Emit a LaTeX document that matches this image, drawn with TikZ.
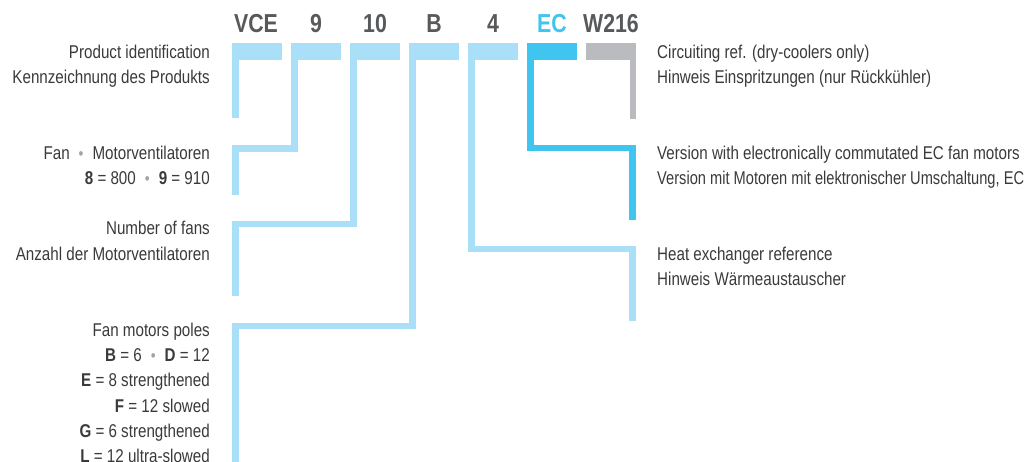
\documentclass[tikz,border=0pt]{standalone}
\usepackage{fontspec}
\setmainfont{Liberation Sans}[FakeStretch=0.82]
\definecolor{lblue}{HTML}{AADFF8}
\definecolor{ecblue}{HTML}{40C4F0}
\definecolor{bgray}{HTML}{BABBBE}
\definecolor{tgray}{HTML}{58595B}
\definecolor{txt}{HTML}{3A3A3A}
\definecolor{dotgray}{HTML}{A3A3A3}
\newcommand\sepdot{\hspace{9pt}{\fontsize{17}{17}\selectfont\color{dotgray}•}\hspace{9pt}}
\begin{document}
\begin{tikzpicture}[x=1pt,y=-1pt,
  bar/.style={minimum width=50pt,minimum height=17pt,inner sep=0pt,outer sep=0pt,draw=none,fill=#1},
  ttl/.style={anchor=base,inner sep=0pt,font=\fontsize{26}{26}\selectfont\bfseries,text=tgray},
  conn/.style={line width=6.5pt,line cap=butt,line join=miter,draw=#1},
  lt/.style={anchor=base east,inner sep=0pt,font=\fontsize{18.5}{25}\selectfont,text=txt},
  rt/.style={anchor=base west,inner sep=0pt,font=\fontsize{18.5}{25}\selectfont,text=txt}]
\useasboundingbox (0,0) rectangle (1035,462);

% code bars
\node[bar=lblue] (b1) at (257,51.5) {};
\node[bar=lblue] (b2) at (316,51.5) {};
\node[bar=lblue] (b3) at (375,51.5) {};
\node[bar=lblue] (b4) at (434,51.5) {};
\node[bar=lblue] (b5) at (493,51.5) {};
\node[bar=ecblue] (b6) at (552,51.5) {};
\node[bar=bgray] (b7) at (611,51.5) {};

% code letters
\node[ttl] (t1) at (256,33) {VCE};
\node[ttl] (t2) at (316,33) {9};
\node[ttl] (t3) at (375,33) {10};
\node[ttl] (t4) at (434,33) {B};
\node[ttl] (t5) at (493,33) {4};
\node[ttl,text=ecblue] (t6) at (552,33) {EC};
\node[ttl] (t7) at (611,33) {W216};

% connector corners and ends
\coordinate (e1) at (235.25,118);
\coordinate (k2) at (235.25,148.5);
\coordinate (e2) at (235.25,195);
\coordinate (k3) at (235.25,224);
\coordinate (e3) at (235.25,296);
\coordinate (k4) at (235.25,326);
\coordinate (e4) at (235.25,462);
\coordinate (k5) at (632.25,249);
\coordinate (e5) at (632.25,321);
\coordinate (k6) at (632.25,148);
\coordinate (e6) at (632.25,220);
\coordinate (e7) at (632.75,119);

\draw[conn=lblue] ([xshift=3.25pt]b1.south west) -- (e1);
\draw[conn=lblue] ([xshift=3.25pt]b2.south west) |- (k2) -- (e2);
\draw[conn=lblue] ([xshift=3.25pt]b3.south west) |- (k3) -- (e3);
\draw[conn=lblue] ([xshift=3.25pt]b4.south west) |- (k4) -- (e4);
\draw[conn=lblue] ([xshift=3.25pt]b5.south west) |- (k5) -- (e5);
\draw[conn=ecblue] ([xshift=3.25pt]b6.south west) |- (k6) -- (e6);
\draw[conn=bgray] ([xshift=-3.25pt]b7.south east) -- (e7);

% left labels
\node[lt] (l1a) at (210,58.3) {Product identification};
\node[lt] (l1b) at (210,83.3) {Kennzeichnung des Produkts};
\node[lt] (l2a) at (210,159.3) {Fan\sepdot Motorventilatoren};
\node[lt] (l2b) at (210,184.3) {\textbf{8} = 800\sepdot\textbf{9} = 910};
\node[lt] (l3a) at (210,235) {Number of fans};
\node[lt] (l3b) at (210,260) {Anzahl der Motorventilatoren};
\node[lt] (l4a) at (210,336) {Fan motors poles};
\node[lt] (l4b) at (210,361.5) {\textbf{B} = 6\sepdot\textbf{D} = 12};
\node[lt] (l4c) at (210,386.8) {\textbf{E} = 8 strengthened};
\node[lt] (l4d) at (210,412) {\textbf{F} = 12 slowed};
\node[lt] (l4e) at (210,437.3) {\textbf{G} = 6 strengthened};
\node[lt] (l4f) at (210,462.5) {\textbf{L} = 12 ultra-slowed};

% right labels
\node[rt] (r1a) at (657,58.3) {Circuiting ref. (dry-coolers only)};
\node[rt] (r1b) at (657,83.3) {Hinweis Einspritzungen (nur Rückkühler)};
\node[rt] (r2a) at (657,159.3) {Version with electronically commutated EC fan motors};
\node[rt] (r2b) at (657,184.3) {\scalebox{0.965}[1]{Version mit Motoren mit elektronischer Umschaltung, EC}};
\node[rt] (r3a) at (657,260) {Heat exchanger reference};
\node[rt] (r3b) at (657,285) {Hinweis Wärmeaustauscher};
\end{tikzpicture}
\end{document}
